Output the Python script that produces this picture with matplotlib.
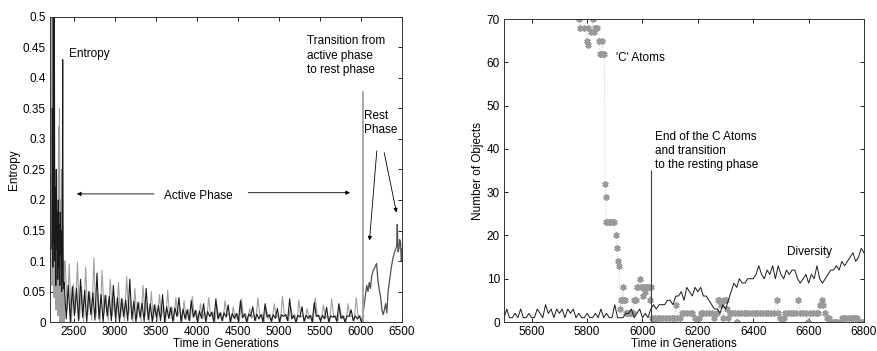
import numpy as np
import matplotlib
matplotlib.use("Agg")
import matplotlib.pyplot as plt
from matplotlib.ticker import FuncFormatter

plt.rcParams['font.family'] = ['Liberation Sans', 'DejaVu Sans']
plt.rcParams['font.size'] = 8.5

# ---------------- left panel: entropy ----------------
# early burst (gray / black spikes), values in 1/1000
early_gray_gen = [2227, 2233, 2239, 2245, 2251, 2257, 2263, 2269, 2275, 2281, 2287, 2293, 2299,
                  2305, 2311, 2317, 2323, 2329, 2335, 2341, 2347, 2353, 2359, 2365, 2371, 2377, 2383]
early_gray = [520, 60, 520, 100, 300, 40, 250, 80, 200, 20, 240, 60, 180,
              10, 320, 50, 350, 0, 200, 40, 250, 0, 150, 60, 100, 0, 100]
early_black_gen = [2230, 2236, 2242, 2248, 2254, 2260, 2266, 2272, 2278, 2284, 2290, 2296, 2302,
                   2308, 2314, 2320, 2326, 2332, 2338, 2344, 2350, 2356, 2362, 2368, 2374]
early_black = [120, 350, 90, 520, 130, 520, 100, 220, 60, 250, 120, 180, 70,
               200, 90, 160, 60, 180, 110, 150, 50, 120, 430, 70, 55]

# active phase, one value every 25 generations (black from 2380, gray from 2392)
active_black = [65, 5, 60, 0, 58, 10, 55, 2, 70,
                8, 52, 0, 50, 12, 48, 3, 80, 5, 45, 0, 44, 10, 42, 2, 60,
                6, 40, 0, 38, 9, 36, 2, 70, 5, 34, 0, 32, 8, 31, 1, 55, 4, 30, 0, 28,
                7, 27, 2, 45, 0, 25, 6, 24, 1, 23, 9, 40, 0, 21, 5, 20, 2, 35, 8, 19,
                0, 18, 6, 30, 1, 17, 9, 16, 0, 38, 5, 15, 2, 15, 8, 28, 0, 14, 6, 14,
                1, 35, 7, 13, 0, 13, 9, 25, 2, 13, 5, 12, 0, 30, 8, 12, 1, 12, 6, 22,
                0, 12, 9, 12, 2, 38, 5, 11, 0, 11, 8, 25, 1, 11, 6, 11, 0, 32, 9, 11,
                2, 11, 5, 24, 0, 10, 8, 10, 1, 30, 6, 10, 0, 10, 9, 20, 2, 10, 5, 10, 0, 10]
active_gray = [100, 20, 95, 0, 62, 15, 98, 5, 58,
               0, 90, 12, 50, 3, 105, 8, 46, 0, 85, 15, 44, 2, 70, 10, 42,
               0, 65, 8, 38, 2, 75, 12, 35, 0, 55, 6, 33, 1, 60, 10, 31, 0, 50, 5, 29,
               2, 45, 9, 27, 0, 52, 6, 25, 1, 40, 10, 23, 0, 35, 4, 21, 2, 42, 8, 19,
               0, 30, 5, 18, 1, 40, 9, 17, 0, 28, 6, 16, 2, 35, 10, 15, 0, 25, 5, 14,
               1, 38, 8, 14, 0, 22, 6, 13, 2, 40, 9, 13, 0, 24, 5, 13, 1, 30, 7, 12,
               0, 42, 10, 12, 2, 26, 6, 12, 0, 36, 8, 11, 1, 22, 5, 11, 0, 40, 9, 11,
               2, 28, 6, 11, 0, 38, 8, 10, 1, 24, 5, 10, 0, 30, 9, 10, 2, 40, 6, 10, 0]

# rest phase
rest_gen = [6025, 6040, 6055, 6070, 6085, 6100, 6115, 6130, 6150, 6170, 6190, 6205, 6220,
            6240, 6255, 6270, 6285, 6300, 6315, 6330, 6350, 6370, 6390, 6410, 6425, 6435,
            6442, 6452, 6462, 6472, 6482, 6492, 6500]
rest_val = [0.015, 0.03, 0.045, 0.06, 0.05, 0.065, 0.055, 0.075, 0.085, 0.09, 0.096, 0.07, 0.055,
            0.04, 0.02, 0.012, 0.02, 0.03, 0.015, 0.05, 0.07, 0.09, 0.105, 0.115, 0.12, 0.125,
            0.16, 0.115, 0.12, 0.135, 0.13, 0.1, 0.12]
transition_gen = 6025
transition_peak = 0.378

# ---------------- right panel: objects ----------------
c_gen = [5772, 5775, 5790, 5800, 5802, 5804, 5815, 5820, 5825, 5830, 5835, 5842, 5848, 5852,
         5855, 5858, 5862, 5866, 5867, 5868, 5873, 5878, 5883, 5888, 5893, 5898, 5903, 5908,
         5912, 5915, 5920, 5922, 5926, 5930, 5932, 5936, 5940, 5945, 5950, 5955, 5960, 5965,
         5968, 5972, 5976, 5980, 5985, 5990, 5993, 5998, 6003, 6006, 6010, 6014, 6018, 6022,
         6026, 6030,
         6035, 6040, 6045, 6055, 6065, 6075, 6085, 6095, 6105, 6115, 6120, 6125, 6135, 6142,
         6150, 6160, 6170, 6180, 6190, 6198, 6205, 6212, 6220, 6230, 6240, 6250, 6260, 6268,
         6272, 6278, 6284, 6290, 6295, 6300, 6305, 6310, 6316, 6325, 6335, 6340, 6345, 6355,
         6365, 6375, 6385, 6395, 6405, 6415, 6425, 6435, 6445, 6455, 6465, 6475, 6485, 6490,
         6497, 6503, 6510, 6515, 6525, 6535, 6545, 6555, 6563, 6570, 6580, 6590, 6598, 6605,
         6615, 6625, 6635, 6642, 6647, 6652, 6658, 6665, 6672, 6680, 6688, 6696, 6704, 6712,
         6720, 6728, 6736, 6744, 6752, 6760, 6768, 6776, 6784, 6792, 6800]
c_val = [70, 68, 68, 65, 64, 68, 67, 70, 67, 68, 68, 65, 62, 62,
         65, 62, 62, 32, 29, 23, 23, 23, 23, 23, 23, 23, 20, 17,
         14, 13, 3, 5, 5, 8, 5, 5, 2, 2, 2, 2, 2, 2,
         5, 5, 5, 8, 8, 10, 8, 8, 6, 8, 7, 8, 8, 8,
         5, 8,
         1, 0, 1, 1, 1, 1, 1, 1, 1, 1, 4, 1, 1, 2,
         2, 2, 2, 2, 1, 0, 1, 2, 2, 2, 2, 2, 1, 2,
         5, 5, 4, 1, 5, 5, 3, 1, 2, 2, 2, 0, 2, 2,
         2, 2, 2, 2, 2, 2, 2, 2, 2, 2, 2, 2, 5, 2,
         1, 0, 1, 2, 2, 2, 2, 2, 5, 2, 2, 2, 0, 2,
         2, 2, 2, 4, 5, 4, 2, 1, 1, 0, 0, 0, 0, 0,
         1, 1, 1, 1, 1, 1, 1, 1, 0, 0, 0]

# diversity, one value every 10 generations from 5500 to 6800
diversity = [1, 3, 1, 1, 2, 1, 3, 1, 1, 2,
             1, 1, 3, 2, 1, 4, 2, 3, 1, 3,
             2, 3, 1, 3, 2, 3, 1, 2, 1, 1,
             2, 1, 1, 2, 1, 3, 1, 2, 1, 1,
             4, 1, 1, 1, 2, 2, 3, 1, 2, 3,
             1, 2, 1, 3,
             4, 3, 4, 4, 4, 5, 5, 4, 6, 6,
             7, 5, 8, 7, 6, 8, 7, 8, 6, 6,
             5, 4, 3, 3, 2, 4, 3, 5, 7, 9,
             8, 10, 9, 9, 10, 10, 10, 11, 13, 11,
             10, 12, 11, 13, 10, 13, 11, 10, 12, 11,
             12, 12, 10, 9, 10, 11, 9, 11, 10, 13,
             10, 9, 10, 11, 12, 12, 13, 12, 14, 13,
             14, 15, 16, 14, 15, 17, 16]

GRAY = '#a0a0a0'
DARK = '#1a1a1a'


def matlab_axes(ax):
    ax.tick_params(direction='in', top=True, right=True, length=3, width=0.6, pad=3)
    for s in ax.spines.values():
        s.set_linewidth(0.7)
        s.set_color('#333333')
    ax.yaxis.set_major_formatter(FuncFormatter(lambda v, p: '%g' % v))


fig = plt.figure(figsize=(8.77, 3.51), dpi=100)

# left
ax1 = fig.add_axes([0.057, 0.0826, 0.4014, 0.869])
g_black = np.arange(len(active_black)) * 25 + 2380
g_gray = np.arange(len(active_gray)) * 25 + 2392
ax1.plot(early_gray_gen + list(g_gray), np.array(early_gray + active_gray) / 1000.0,
         color=GRAY, lw=0.8)
ax1.plot(early_black_gen + list(g_black), np.array(early_black + active_black) / 1000.0,
         color=DARK, lw=0.8)
ax1.plot(rest_gen, rest_val, color='#505050', lw=0.9)
ax1.vlines(transition_gen, 0, transition_peak, color=GRAY, lw=1.3)
ax1.set_xlim(2207, 6500)
ax1.set_ylim(0, 0.5)
ax1.set_xticks(np.arange(2500, 6501, 500))
ax1.set_yticks(np.arange(0, 0.51, 0.05))
matlab_axes(ax1)
ax1.set_xlabel('Time in Generations', labelpad=0)
ax1.set_ylabel('Entropy', labelpad=2)

ax1.text(2440, 0.44, 'Entropy', va='center', ha='left')
ax1.text(4010, 0.207, 'Active Phase', va='center', ha='center')
arr = dict(arrowstyle='-|>', color='k', lw=0.6, mutation_scale=6)
ax1.annotate('', xy=(2500, 0.21), xytext=(3510, 0.21), arrowprops=arr)
ax1.annotate('', xy=(5900, 0.212), xytext=(4590, 0.212), arrowprops=arr)
ax1.text(5340, 0.47, 'Transition from\nactive phase\nto rest phase', va='top', ha='left',
         linespacing=1.25)
ax1.text(6040, 0.348, 'Rest\nPhase', va='top', ha='left', linespacing=1.25)
ax1.annotate('', xy=(6101, 0.129), xytext=(6195, 0.285), arrowprops=arr)
ax1.annotate('', xy=(6439, 0.175), xytext=(6276, 0.282), arrowprops=arr)

# right
ax2 = fig.add_axes([0.5747, 0.0826, 0.4105, 0.863])
div_gen = np.arange(len(diversity)) * 10 + 5500
ax2.plot(c_gen, c_val, color='#c8c8c8', lw=0.7, ls=':')
ax2.plot(c_gen, c_val, ls='none', marker=(6, 2, 0), ms=4.5, mew=1.2, color='#999999')
ax2.plot(div_gen, diversity, color=DARK, lw=0.7)
ax2.vlines(6030, 0, 35.1, color='#404040', lw=0.8)
ax2.set_xlim(5500, 6800)
ax2.set_ylim(0, 70)
ax2.set_xticks(np.arange(5600, 6801, 200))
ax2.set_yticks(np.arange(0, 71, 10))
matlab_axes(ax2)
ax2.set_xlabel('Time in Generations', labelpad=0)
ax2.set_ylabel('Number of Objects', labelpad=2)

ax2.text(5903, 61, "'C' Atoms", va='center', ha='left')
ax2.text(6045, 44.2, 'End of the C Atoms\nand transition\nto the resting phase',
         va='top', ha='left', linespacing=1.25)
ax2.text(6521, 16.2, 'Diversity', va='center', ha='left')

fig.savefig('out.png', dpi=100)
